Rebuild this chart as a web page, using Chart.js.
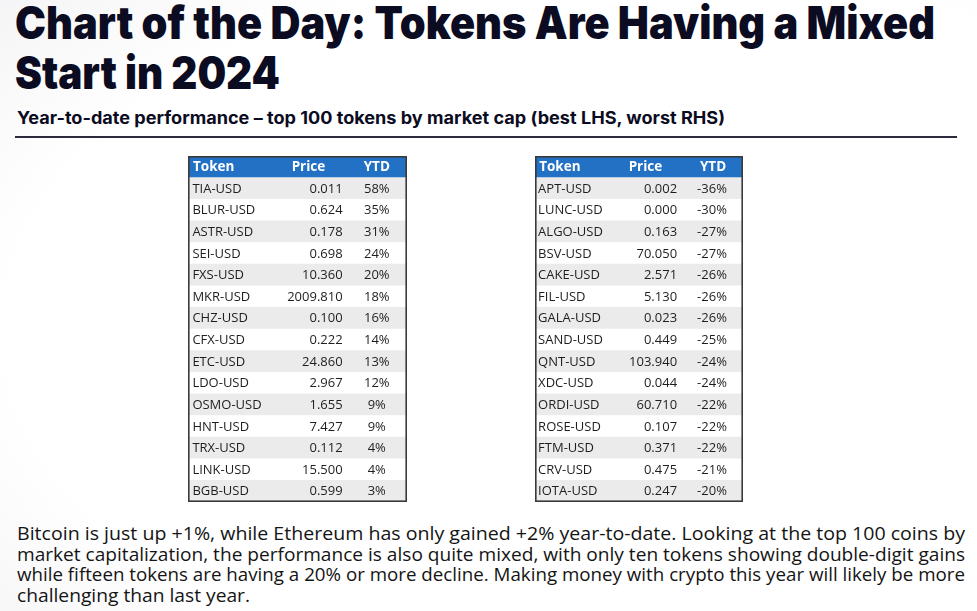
<!DOCTYPE html>
<html>
<head>
<meta charset="utf-8">
<script src="https://cdn.jsdelivr.net/npm/chart.js@4.4.1/dist/chart.umd.min.js"></script>
<style>
  html,body{margin:0;padding:0;}
  body{width:977px;height:611px;position:relative;overflow:hidden;
    background: radial-gradient(ellipse 900px 520px at 640px 330px, #ffffff 0%, #ffffff 70%, #f3f3f5 100%);
    font-family:"Open Sans", sans-serif;color:#111;}
  .title{position:absolute;left:15px;font-family:Inter,"Open Sans",sans-serif;font-weight:900;font-size:45px;line-height:50px;color:#0b0b22;white-space:nowrap;}
  .fit{display:inline-block;transform-origin:0 0;white-space:nowrap;}
  #t1{top:-2px;}
  #t2{top:48px;}
  #sub{position:absolute;left:17px;top:106px;font-family:Inter,"Open Sans",sans-serif;font-weight:700;font-size:17px;line-height:24px;color:#0b0b22;white-space:nowrap;}
  #rule{position:absolute;left:15px;top:136px;width:942px;height:2px;background:#2b2b3d;}
  .tbl{position:absolute;}
  #para{position:absolute;left:17px;top:523px;width:948px;font-size:17.5px;line-height:20.5px;color:#141414;}
  #para div{text-align:justify;text-align-last:justify;white-space:nowrap;}
  #para div.last{text-align-last:left;}
</style>
</head>
<body>
<div class="title" id="t1"><span class="fit" data-w="920">Chart of the Day: Tokens Are Having a Mixed</span></div>
<div class="title" id="t2"><span class="fit" data-w="265">Start in 2024</span></div>
<div id="sub"><span class="fit" data-w="708">Year-to-date performance – top 100 tokens by market cap (best LHS, worst RHS)</span></div>
<div id="rule"></div>
<div class="tbl" style="left:188px;top:156px;"><canvas id="c1" width="219" height="346"></canvas></div>
<div class="tbl" style="left:535px;top:156px;"><canvas id="c2" width="208" height="346"></canvas></div>
<div id="para">
  <div><span class="fit" data-w="948">Bitcoin is just up +1%, while Ethereum has only gained +2% year-to-date. Looking at the top 100 coins by</span></div>
  <div><span class="fit" data-w="948">market capitalization, the performance is also quite mixed, with only ten tokens showing double-digit gains</span></div>
  <div><span class="fit" data-w="948">while fifteen tokens are having a 20% or more decline. Making money with crypto this year will likely be more</span></div>
  <div class="last"><span class="fit" data-w="233">challenging than last year.</span></div>
</div>
<script>
// ---- data ----
const headers = ['Token', 'Price', 'YTD'];
const leftTokens = ['TIA-USD','BLUR-USD','ASTR-USD','SEI-USD','FXS-USD','MKR-USD','CHZ-USD','CFX-USD','ETC-USD','LDO-USD','OSMO-USD','HNT-USD','TRX-USD','LINK-USD','BGB-USD'];
const leftPrices = [0.011,0.624,0.178,0.698,10.360,2009.810,0.100,0.222,24.860,2.967,1.655,7.427,0.112,15.500,0.599];
const leftYtd = [58,35,31,24,20,18,16,14,13,12,9,9,4,4,3];
const rightTokens = ['APT-USD','LUNC-USD','ALGO-USD','BSV-USD','CAKE-USD','FIL-USD','GALA-USD','SAND-USD','QNT-USD','XDC-USD','ORDI-USD','ROSE-USD','FTM-USD','CRV-USD','IOTA-USD'];
const rightPrices = [0.002,0.000,0.163,70.050,2.571,5.130,0.023,0.449,103.940,0.044,60.710,0.107,0.371,0.475,0.247];
const rightYtd = [-36,-30,-27,-27,-26,-26,-26,-25,-24,-24,-22,-22,-22,-21,-20];

// fit text widths
document.querySelectorAll('.fit').forEach(el => {
  const w = el.getBoundingClientRect().width;
  const target = +el.dataset.w;
  if (w > 0) el.style.transform = 'scaleX(' + (target / w) + ')';
});

function makeTable(canvasId, tokens, prices, ytd, cols) {
  const labels = [headers[0]].concat(tokens);
  const colors = labels.map((_, i) => i === 0 ? '#2371c4' : (i % 2 === 1 ? '#ebebeb' : '#ffffff'));
  const textPlugin = {
    id: 'tableText',
    afterDatasetsDraw(chart) {
      const ctx = chart.ctx, xs = chart.scales.x, ys = chart.scales.y;
      ctx.save();
      ctx.textBaseline = 'middle';
      ctx.font = 'bold 13.5px "Open Sans"';
      ctx.fillStyle = '#ffffff';
      const hy = ys.getPixelForValue(0) + 0.5;
      ctx.textAlign = 'left';   ctx.fillText(headers[0], xs.getPixelForValue(cols.hToken), hy);
      ctx.textAlign = 'center'; ctx.fillText(headers[1], xs.getPixelForValue(cols.hPrice), hy);
      ctx.textAlign = 'center'; ctx.fillText(headers[2], xs.getPixelForValue(cols.hYtd), hy);
      ctx.font = '13px "Open Sans"';
      ctx.fillStyle = '#1e1e1e';
      tokens.forEach((t, i) => {
        const y = ys.getPixelForValue(i + 1) + 0.5;
        ctx.textAlign = 'left';   ctx.fillText(t, xs.getPixelForValue(cols.token), y);
        ctx.textAlign = 'right';  ctx.fillText(prices[i].toFixed(3), xs.getPixelForValue(cols.price), y);
        ctx.textAlign = 'center'; ctx.fillText(ytd[i] + '%', xs.getPixelForValue(cols.ytd), y);
      });
      const a = chart.chartArea;
      ctx.strokeStyle = '#3a3a3a';
      ctx.lineWidth = 1.6;
      ctx.strokeRect(a.left + 0.8, a.top + 0.8, a.right - a.left - 1.6, a.bottom - a.top - 1.6);
      ctx.restore();
    }
  };
  return new Chart(document.getElementById(canvasId), {
    type: 'bar',
    data: {
      labels: labels,
      datasets: [{
        data: labels.map(() => [0, 1]),
        backgroundColor: colors,
        borderWidth: 0,
        barPercentage: 1,
        categoryPercentage: 1
      }]
    },
    options: {
      indexAxis: 'y',
      responsive: false,
      animation: false,
      events: [],
      layout: { padding: 0 },
      plugins: { legend: { display: false }, tooltip: { enabled: false } },
      scales: {
        x: { type: 'linear', min: 0, max: 1, display: false },
        y: { type: 'category', display: false, offset: true }
      }
    },
    plugins: [textPlugin]
  });
}

makeTable('c1', leftTokens, leftPrices, leftYtd,
  { token: 0.02, price: 0.706, ytd: 0.862, hToken: 0.023, hPrice: 0.55, hYtd: 0.862 });
makeTable('c2', rightTokens, rightPrices, rightYtd,
  { token: 0.015, price: 0.683, ytd: 0.851, hToken: 0.02, hPrice: 0.531, hYtd: 0.856 });
</script>
</body>
</html>
